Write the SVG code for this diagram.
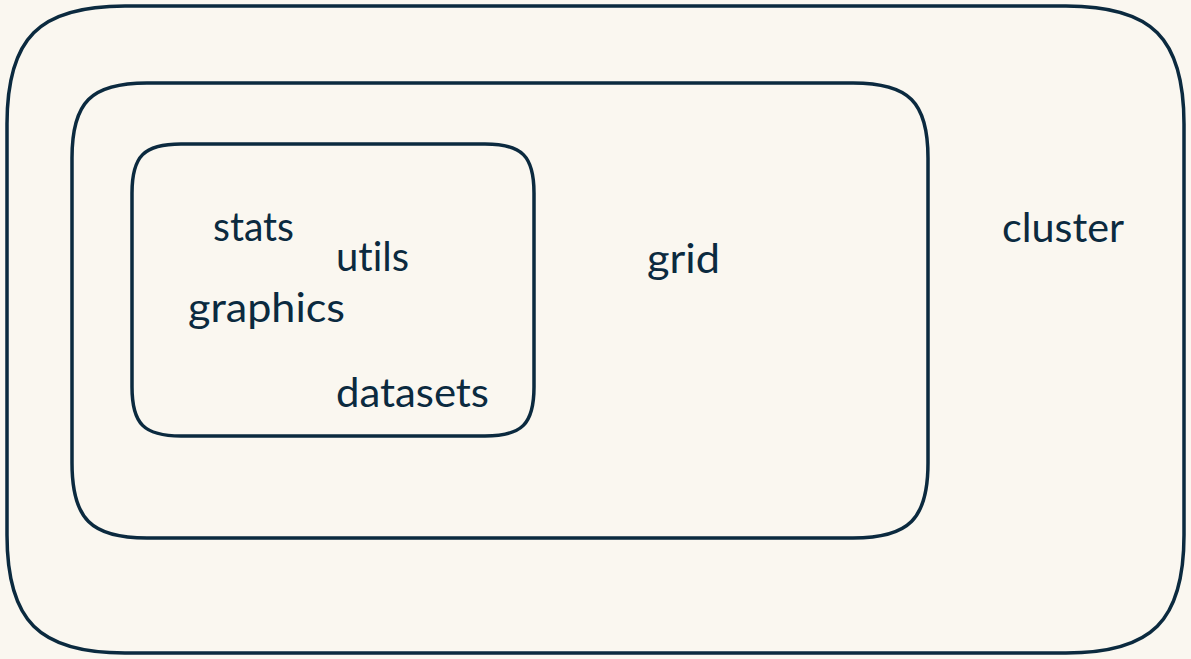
<svg xmlns="http://www.w3.org/2000/svg" width="1191" height="659" viewBox="0 0 1191 659">
<style>
.box{fill:none;stroke:#0b2a3f;stroke-width:3.5}
.lbl{font-family:Lato,"Open Sans",sans-serif;font-size:40px;fill:#0b2a3f;font-variant-ligatures:none;font-feature-settings:"liga" 0,"clig" 0}
</style>
<rect width="1191" height="659" fill="#faf7f0"/>
<g id="cluster">
<path class="box" d="M125,6 L1066,6 C1152,6 1184,38 1184,124 L1184,535 C1184,621 1152,653 1066,653 L125,653 C39,653 7,621 7,535 L7,124 C7,38 39,6 125,6 Z"/>
<text class="lbl" x="1002" y="242" textLength="122" lengthAdjust="spacingAndGlyphs">cluster</text>
</g>
<g id="grid">
<path class="box" d="M147,83 L853,83 C909,83 928,102 928,158 L928,463 C928,519 909,538 853,538 L147,538 C91,538 72,519 72,463 L72,158 C72,102 91,83 147,83 Z"/>
<text class="lbl" x="647" y="273" textLength="73" lengthAdjust="spacingAndGlyphs">grid</text>
</g>
<g id="base">
<path class="box" d="M181,144 L485,144 C522,144 534,156 534,193 L534,387 C534,424 522,436 485,436 L181,436 C144,436 132,424 132,387 L132,193 C132,156 144,144 181,144 Z"/>
</g>
<g id="stats"><text class="lbl" x="213" y="241" textLength="81" lengthAdjust="spacingAndGlyphs">stats</text></g>
<g id="utils"><text class="lbl" x="336" y="271" textLength="73" lengthAdjust="spacingAndGlyphs">utils</text></g>
<g id="graphics"><text class="lbl" x="188" y="322" textLength="157" lengthAdjust="spacingAndGlyphs">graphics</text></g>
<g id="datasets"><text class="lbl" x="336" y="407" textLength="153" lengthAdjust="spacingAndGlyphs">datasets</text></g>
<g id="connectors"/>
</svg>
